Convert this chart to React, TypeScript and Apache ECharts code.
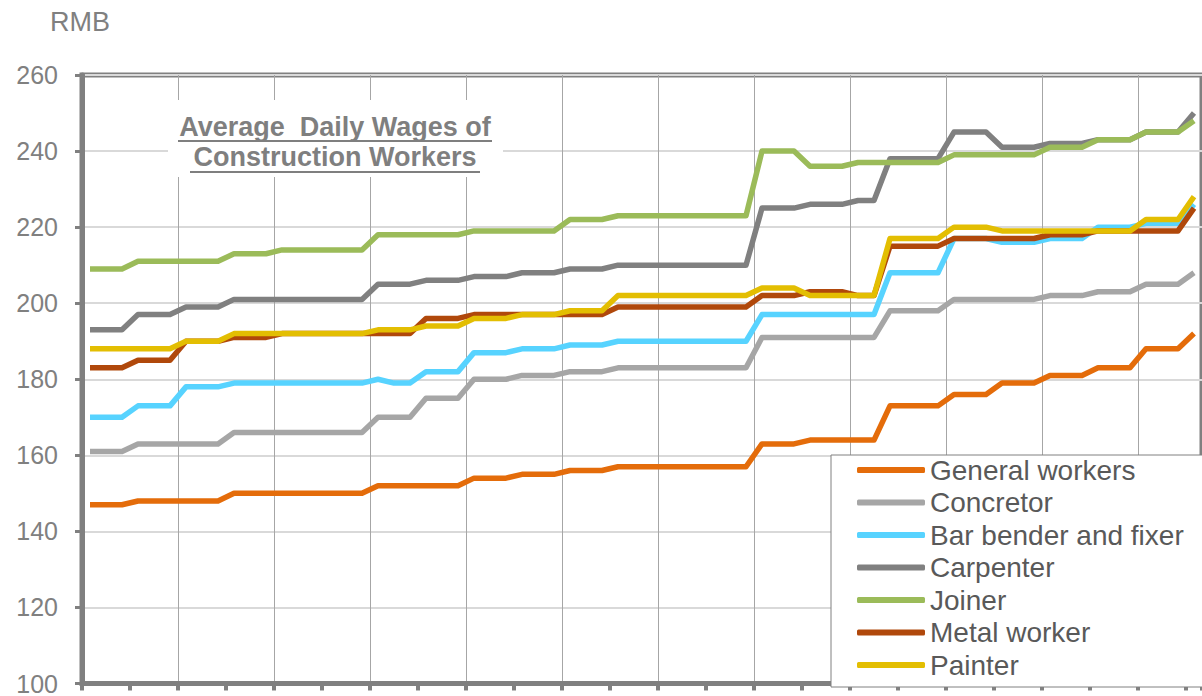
import React, { useEffect, useRef } from "react";
import * as echarts from "echarts";

const categories: string[] = Array.from({ length: 70 }, (_, i) => String(i + 1));

const seriesNames = [
  "General workers",
  "Concretor",
  "Bar bender and fixer",
  "Carpenter",
  "Joiner",
  "Metal worker",
  "Painter",
];

const seriesColors = ["#E46C0A", "#A6A6A6", "#57D3FF", "#808080", "#9BBB59", "#B0480B", "#E3BE02"];

const generalWorkers = [147,147,147,148,148,148,148,148,148,150,150,150,150,150,150,150,150,150,152,152,152,152,152,152,154,154,154,155,155,155,156,156,156,157,157,157,157,157,157,157,157,157,163,163,163,164,164,164,164,164,173,173,173,173,176,176,176,179,179,179,181,181,181,183,183,183,188,188,188,192];
const concretor = [161,161,161,163,163,163,163,163,163,166,166,166,166,166,166,166,166,166,170,170,170,175,175,175,180,180,180,181,181,181,182,182,182,183,183,183,183,183,183,183,183,183,191,191,191,191,191,191,191,191,198,198,198,198,201,201,201,201,201,201,202,202,202,203,203,203,205,205,205,208];
const barBender = [170,170,170,173,173,173,178,178,178,179,179,179,179,179,179,179,179,179,180,179,179,182,182,182,187,187,187,188,188,188,189,189,189,190,190,190,190,190,190,190,190,190,197,197,197,197,197,197,197,197,208,208,208,208,217,217,217,216,216,216,217,217,217,220,220,220,221,221,221,226];
const carpenter = [193,193,193,197,197,197,199,199,199,201,201,201,201,201,201,201,201,201,205,205,205,206,206,206,207,207,207,208,208,208,209,209,209,210,210,210,210,210,210,210,210,210,225,225,225,226,226,226,227,227,238,238,238,238,245,245,245,241,241,241,242,242,242,243,243,243,245,245,245,250];
const joiner = [209,209,209,211,211,211,211,211,211,213,213,213,214,214,214,214,214,214,218,218,218,218,218,218,219,219,219,219,219,219,222,222,222,223,223,223,223,223,223,223,223,223,240,240,240,236,236,236,237,237,237,237,237,237,239,239,239,239,239,239,241,241,241,243,243,243,245,245,245,248];
const metalWorker = [183,183,183,185,185,185,190,190,190,191,191,191,192,192,192,192,192,192,192,192,192,196,196,196,197,197,197,197,197,197,197,197,197,199,199,199,199,199,199,199,199,199,202,202,202,203,203,203,202,202,215,215,215,215,217,217,217,217,217,217,218,218,218,219,219,219,219,219,219,225];
const painter = [188,188,188,188,188,188,190,190,190,192,192,192,192,192,192,192,192,192,193,193,193,194,194,194,196,196,196,197,197,197,198,198,198,202,202,202,202,202,202,202,202,202,204,204,204,202,202,202,202,202,217,217,217,217,220,220,220,219,219,219,219,219,219,219,219,219,222,222,222,228];

const seriesValues = [generalWorkers, concretor, barBender, carpenter, joiner, metalWorker, painter];

const yMin = 100;
const yMax = 260;
const yStep = 20;

const FONT = "'Liberation Sans', Arial, sans-serif";

export default function App() {
  const ref = useRef<HTMLDivElement>(null);

  useEffect(() => {
    if (!ref.current) return;
    const chart = echarts.init(ref.current, null, { renderer: "svg" });
    const option: any = {
      animation: false,
      backgroundColor: "#ffffff",
      grid: {
        left: 82,
        top: 75,
        right: -9,
        bottom: 10,
        show: true,
        borderColor: "#808080",
        borderWidth: 5,
        backgroundColor: "transparent",
      },
      xAxis: {
        type: "category",
        data: categories,
        boundaryGap: true,
        axisLine: { show: true, lineStyle: { color: "#808080", width: 5 } },
        axisTick: { show: true, interval: 2, length: 7, lineStyle: { color: "#808080", width: 4 } },
        axisLabel: { show: false },
        splitLine: { show: true, interval: 5, lineStyle: { color: "#A6A6A6", width: 1 } },
      },
      yAxis: {
        type: "value",
        min: yMin,
        max: yMax,
        interval: yStep,
        axisLine: { show: true, lineStyle: { color: "#808080", width: 5 } },
        axisTick: { show: true, length: 7, lineStyle: { color: "#808080", width: 3 } },
        axisLabel: { color: "#808080", fontSize: 25, fontFamily: FONT, margin: 24 },
        splitLine: { show: true, lineStyle: { color: "#D9D9D9", width: 2 } },
      },
      legend: {
        orient: "vertical",
        left: 831,
        top: 455,
        height: 240,
        padding: [1, 40, 8, 26],
        backgroundColor: "#ffffff",
        borderColor: "#808080",
        borderWidth: 1,
        borderRadius: 0,
        icon: "roundRect",
        itemWidth: 68,
        itemHeight: 6,
        itemGap: 4.5,
        data: seriesNames,
        textStyle: { color: "#595959", fontSize: 28, fontFamily: FONT, lineHeight: 28 },
        z: 10,
      },
      graphic: [
        {
          type: "rect",
          shape: { x: 168, y: 100, width: 335, height: 77 },
          style: { fill: "#ffffff" },
          z: 5,
        },
        {
          type: "text",
          x: 335,
          y: 127,
          style: {
            text: "Average  Daily Wages of",
            fill: "#7F7F7F",
            font: `bold 27px ${FONT}`,
            textAlign: "center",
            textVerticalAlign: "middle",
          },
          z: 6,
        },
        {
          type: "text",
          x: 335,
          y: 157,
          style: {
            text: "Construction Workers",
            fill: "#7F7F7F",
            font: `bold 27px ${FONT}`,
            textAlign: "center",
            textVerticalAlign: "middle",
          },
          z: 6,
        },
        {
          type: "line",
          shape: { x1: 178, y1: 141, x2: 492, y2: 141 },
          style: { stroke: "#7F7F7F", lineWidth: 2 },
          z: 6,
        },
        {
          type: "line",
          shape: { x1: 190, y1: 172, x2: 480, y2: 172 },
          style: { stroke: "#7F7F7F", lineWidth: 2 },
          z: 6,
        },
        {
          type: "text",
          x: 50,
          y: 22,
          style: {
            text: "RMB",
            fill: "#808080",
            font: `27px ${FONT}`,
            textAlign: "left",
            textVerticalAlign: "middle",
          },
        },
      ],
      series: seriesNames.map((name, i) => ({
        name,
        type: "line",
        data: seriesValues[i],
        symbol: "none",
        smooth: false,
        color: seriesColors[i],
        lineStyle: { color: seriesColors[i], width: 5.5, join: "round", cap: "butt" },
        itemStyle: { color: seriesColors[i] },
        z: 2 + i * 0.01,
      })),
    };
    chart.setOption(option);
    return () => chart.dispose();
  }, []);

  return (
    <div
      ref={ref}
      style={{ position: "fixed", left: 0, top: 0, width: 1202, height: 696, background: "#fff" }}
    />
  );
}
